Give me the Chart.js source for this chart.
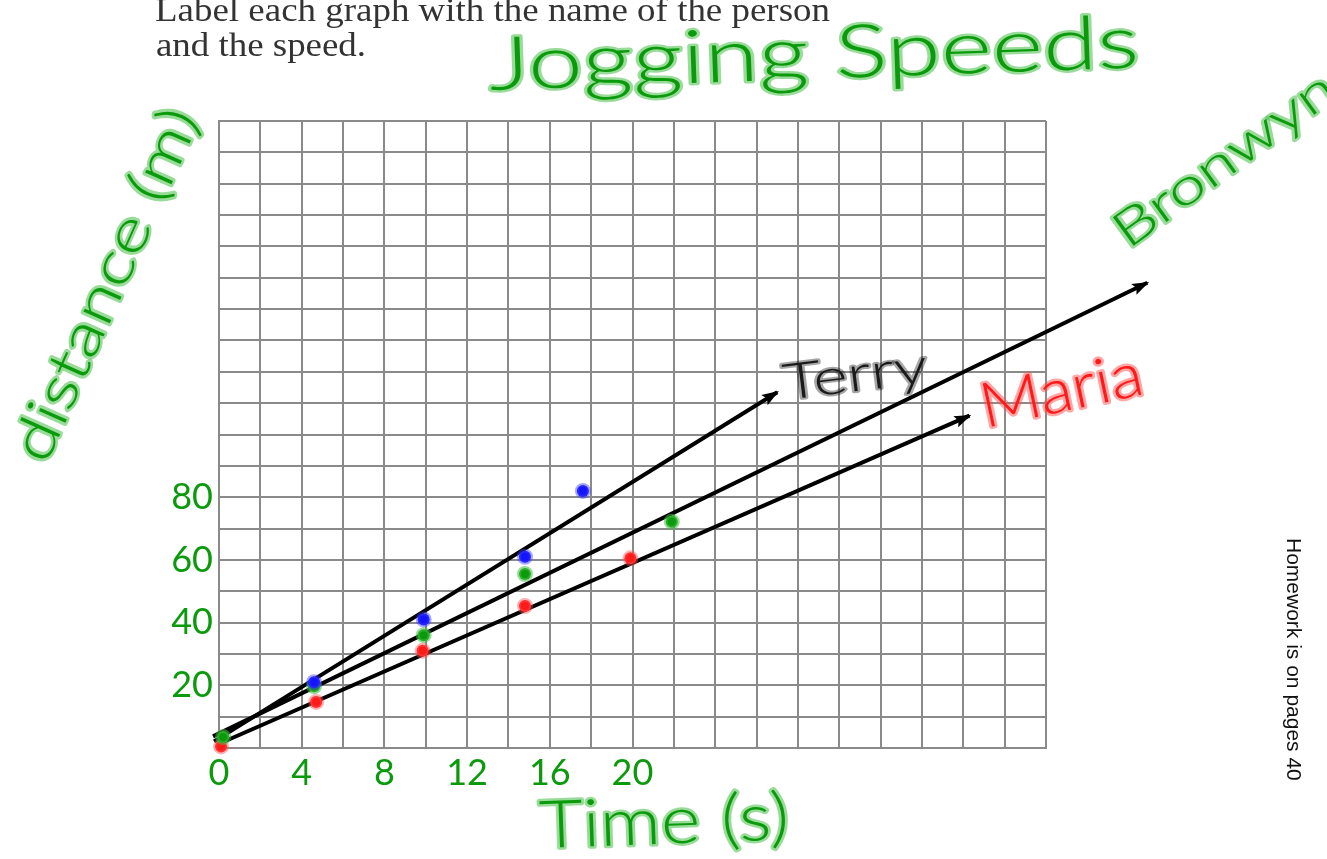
<!DOCTYPE html>
<html>
<head>
<meta charset="utf-8">
<title>Jogging Speeds</title>
<script src="https://cdn.jsdelivr.net/npm/chart.js@4.4.1/dist/chart.umd.min.js"></script>
<style>
  html, body { margin: 0; padding: 0; background: #fff; overflow: hidden; }
  #wrap { width: 1327px; height: 859px; position: relative; }
</style>
</head>
<body>
<div id="wrap"><canvas id="joggingChart"></canvas></div>
<script>
// Grid: 20 columns x 20 rows, 2 s per column, 10 m per row
const X_MIN = 0, X_MAX = 40, X_STEP = 2;
const Y_MIN = 0, Y_MAX = 200, Y_STEP = 10;

// only these ticks were written on the sheet
const xTickLabels = [0, 4, 8, 12, 16, 20];
const yTickLabels = [20, 40, 60, 80];

// plotted dots (time in s, distance in m)
const terryTimes = [4.6, 9.9, 14.8, 17.6];
const terryDistances = [21, 41, 61, 82];
const bronwynTimes = [0.2, 4.6, 9.9, 14.8, 21.9];
const bronwynDistances = [3.5, 19.7, 36, 55.5, 72.2];
const mariaTimes = [0.1, 4.7, 9.85, 14.8, 19.9];
const mariaDistances = [0.5, 14.7, 31, 45.3, 60.5];
const strayTimes = [42];
const strayDistances = [137];

// hand drawn arrows (start, end)
const terryLineTimes = [-0.24, 27.0];
const terryLineDistances = [2.1, 113.5];
const bronwynLineTimes = [-0.29, 44.9];
const bronwynLineDistances = [3.7, 148.4];
const mariaLineTimes = [-0.05, 36.3];
const mariaLineDistances = [1.2, 106.0];

const GREEN = '#0b9a0b';
const GREEN_HALO = 'rgba(70,190,70,0.55)';
const BLUE = '#1414ff';
const RED = '#ff1a1a';
const GRID = '#8a8a8a';
const HAND_FONT = 'Lato';

function toPoints(xs, ys) {
    return xs.map((x, i) => ({ x: x, y: ys[i] }));
}

function dotSet(label, xs, ys, fill, halo, radius) {
    return {
        label: label,
        data: toPoints(xs, ys),
        backgroundColor: fill,
        borderColor: halo,
        borderWidth: 4,
        pointRadius: radius,
        pointHoverRadius: radius,
        showLine: false,
        clip: false
    };
}

function arrowSet(label, xs, ys) {
    return {
        label: label,
        data: toPoints(xs, ys),
        borderColor: '#000',
        backgroundColor: '#000',
        borderWidth: 4,
        pointRadius: 0,
        showLine: true,
        clip: false,
        arrow: true
    };
}

// marker-pen style word: dark core + light halo, squeezed/stretched to a width
function penText(ctx, text, x, y, o) {
    ctx.save();
    ctx.translate(x, y);
    ctx.rotate((o.angle || 0) * Math.PI / 180);
    ctx.font = (o.weight || '300') + ' ' + o.size + 'px ' + (o.family || HAND_FONT);
    if (o.fit) {
        ctx.scale(o.fit / ctx.measureText(text).width, 1);
    }
    ctx.textAlign = 'left';
    ctx.textBaseline = 'alphabetic';
    if (o.halo) {
        ctx.lineJoin = 'round';
        ctx.lineWidth = o.haloWidth || 5;
        ctx.strokeStyle = o.halo;
        ctx.strokeText(text, 0, 0);
    }
    ctx.fillStyle = o.color;
    ctx.fillText(text, 0, 0);
    ctx.restore();
}

// arrow heads at the end of each drawn line
const arrowHeads = {
    id: 'arrowHeads',
    afterDatasetsDraw(chart) {
        const ctx = chart.ctx;
        chart.data.datasets.forEach((ds, i) => {
            if (!ds.arrow) return;
            const pts = chart.getDatasetMeta(i).data;
            const a = pts[pts.length - 2], b = pts[pts.length - 1];
            const ang = Math.atan2(b.y - a.y, b.x - a.x);
            const len = 15, half = 6;
            ctx.save();
            ctx.translate(b.x, b.y);
            ctx.rotate(ang);
            ctx.beginPath();
            ctx.moveTo(2, 0);
            ctx.lineTo(-len, -half);
            ctx.lineTo(-len + 3, 0);
            ctx.lineTo(-len, half);
            ctx.closePath();
            ctx.fillStyle = ds.borderColor;
            ctx.fill();
            ctx.restore();
        });
    }
};

// worksheet text and handwritten labels
const sheetText = {
    id: 'sheetText',
    afterDraw(chart) {
        const ctx = chart.ctx;
        penText(ctx, 'Label each graph with the name of the person', 155, 21,
            { size: 33, fit: 675, family: '"Liberation Serif"', weight: '400', color: '#333' });
        penText(ctx, 'and the speed.', 156, 56,
            { size: 33, fit: 210, family: '"Liberation Serif"', weight: '400', color: '#333' });

        penText(ctx, 'Jogging Speeds', 490, 90,
            { size: 74, fit: 650, angle: -2, color: GREEN, halo: GREEN_HALO, haloWidth: 5 });
        penText(ctx, 'distance (m)', 46, 466,
            { size: 58, fit: 380, angle: -66, color: GREEN, halo: GREEN_HALO, haloWidth: 5 });
        penText(ctx, 'Time (s)', 540, 848,
            { size: 66, fit: 250, angle: -2, color: GREEN, halo: GREEN_HALO, haloWidth: 5 });
        penText(ctx, 'Terry', 785, 400,
            { size: 50, fit: 145, angle: -7, color: '#1a1a1a', halo: 'rgba(0,0,0,0.35)', haloWidth: 4 });
        penText(ctx, 'Maria', 985, 428,
            { size: 62, fit: 165, angle: -12, color: RED, halo: 'rgba(255,80,80,0.5)', haloWidth: 5 });
        penText(ctx, 'Bronwyn', 1128, 250,
            { size: 50, fit: 262, angle: -36, color: GREEN, halo: GREEN_HALO, haloWidth: 5 });

        ctx.save();
        ctx.translate(1287, 538);
        ctx.rotate(Math.PI / 2);
        ctx.font = '21px "Liberation Sans", Arial, sans-serif';
        ctx.fillStyle = '#111';
        ctx.textBaseline = 'alphabetic';
        ctx.fillText('Homework is on pages 40', 0, 0);
        ctx.restore();
    }
};

const tickFont = { family: HAND_FONT, size: 36, weight: '400' };

const chart = new Chart(document.getElementById('joggingChart'), {
    type: 'scatter',
    data: {
        datasets: [
            dotSet('Terry', terryTimes, terryDistances, BLUE, 'rgba(60,60,255,0.45)', 6),
            dotSet('Bronwyn', bronwynTimes, bronwynDistances, GREEN, GREEN_HALO, 6),
            dotSet('Maria', mariaTimes, mariaDistances, RED, 'rgba(255,80,80,0.45)', 6),
            dotSet('stray', strayTimes, strayDistances, RED, 'rgba(255,80,80,0.45)', 1.5),
            arrowSet('Terry line', terryLineTimes, terryLineDistances),
            arrowSet('Bronwyn line', bronwynLineTimes, bronwynLineDistances),
            arrowSet('Maria line', mariaLineTimes, mariaLineDistances)
        ]
    },
    options: {
        responsive: true,
        maintainAspectRatio: false,
        animation: false,
        layout: { padding: { top: 121, right: 281, bottom: 63, left: 0 } },
        plugins: {
            legend: { display: false },
            tooltip: { enabled: false },
            title: { display: false }
        },
        scales: {
            x: {
                type: 'linear',
                min: X_MIN,
                max: X_MAX,
                afterFit: s => { s.height = 48; },
                grid: { color: GRID, lineWidth: 2, drawTicks: false },
                border: { color: GRID, width: 2 },
                ticks: {
                    stepSize: X_STEP,
                    autoSkip: false,
                    maxRotation: 0,
                    padding: 4,
                    color: GREEN,
                    font: tickFont,
                    callback: v => xTickLabels.includes(v) ? String(v) : ''
                }
            },
            y: {
                type: 'linear',
                min: Y_MIN,
                max: Y_MAX,
                afterFit: s => { s.width = 219; },
                grid: { color: GRID, lineWidth: 2, drawTicks: false },
                border: { color: GRID, width: 2 },
                ticks: {
                    stepSize: Y_STEP,
                    autoSkip: false,
                    padding: 6,
                    color: GREEN,
                    font: tickFont,
                    callback: v => yTickLabels.includes(v) ? String(v) : ''
                }
            }
        }
    },
    plugins: [arrowHeads, sheetText]
});
</script>
</body>
</html>
